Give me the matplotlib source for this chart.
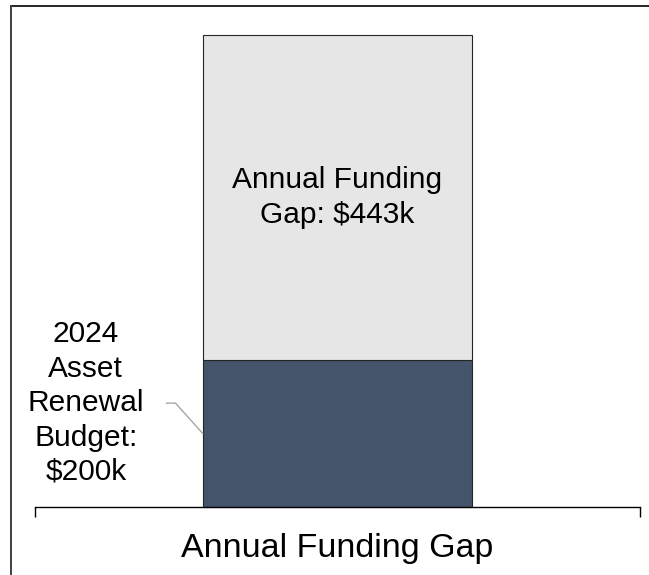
import matplotlib.pyplot as plt
from matplotlib.lines import Line2D

plt.rcParams['font.family'] = ['Liberation Sans', 'DejaVu Sans']

# Datos
categoria = ["Annual Funding Gap"]
presupuesto = [200]      # 2024 Asset Renewal Budget ($k)
brecha = [443]           # Annual Funding Gap ($k)
color_presupuesto = '#44546A'
color_brecha = '#E7E6E6'

W, H = 649, 575
fig = plt.figure(figsize=(W / 100, H / 100), dpi=100)

# Ejes colocados en pixeles
x0, x1 = 35, 640
y_base, y_tope = 507, 35
ax = fig.add_axes([x0 / W, (H - y_base) / H, (x1 - x0) / W, (y_base - y_tope) / H])

total = presupuesto[0] + brecha[0]
ax.set_xlim(-0.5, 0.5)
ax.set_ylim(0, total)

ancho = 0.445
ax.bar(0, presupuesto, width=ancho, color=color_presupuesto,
       edgecolor='#262626', linewidth=0.8, clip_on=False, zorder=2)
ax.bar(0, brecha, bottom=presupuesto, width=ancho, color=color_brecha,
       edgecolor='#262626', linewidth=0.8, clip_on=False, zorder=2)

# Etiqueta dentro del segmento superior
ax.text(0, presupuesto[0] + brecha[0] / 2,
        f"Annual Funding\nGap: ${brecha[0]}k",
        ha='center', va='center', fontsize=21.5, linespacing=1.29)

# Etiqueta del presupuesto con linea guia
ax.annotate(f"2024\nAsset\nRenewal\nBudget:\n${presupuesto[0]}k",
            xy=(-ancho / 2, presupuesto[0] / 2),
            xytext=(-0.416, 141.5),
            ha='center', va='center', fontsize=21.5, linespacing=1.29,
            arrowprops=dict(arrowstyle='-', color='#A6A6A6', lw=1,
                            relpos=(1, 0.5), shrinkA=14, shrinkB=0,
                            connectionstyle='angle,angleA=0,angleB=132,rad=0'))

# Eje x con marcas solo en los extremos
for lado in ['top', 'right', 'left']:
    ax.spines[lado].set_visible(False)
ax.spines['bottom'].set_color('black')
ax.spines['bottom'].set_linewidth(1)
ax.set_yticks([])
ax.set_xticks([0])
ax.set_xticklabels(categoria, fontsize=24.5)
ax.tick_params(axis='x', which='major', length=0, pad=18.5)
ax.set_xticks([-0.5, 0.5], minor=True)
ax.tick_params(axis='x', which='minor', length=7, width=1, color='black', direction='out')

# Borde superior e izquierdo de la figura
fig.add_artist(Line2D([11 / W, 1], [1 - 6 / H, 1 - 6 / H], transform=fig.transFigure,
                      color='black', lw=1.2))
fig.add_artist(Line2D([11 / W, 11 / W], [0, 1 - 6 / H], transform=fig.transFigure,
                      color='#404040', lw=1.4))

plt.savefig('out.png', dpi=100)
